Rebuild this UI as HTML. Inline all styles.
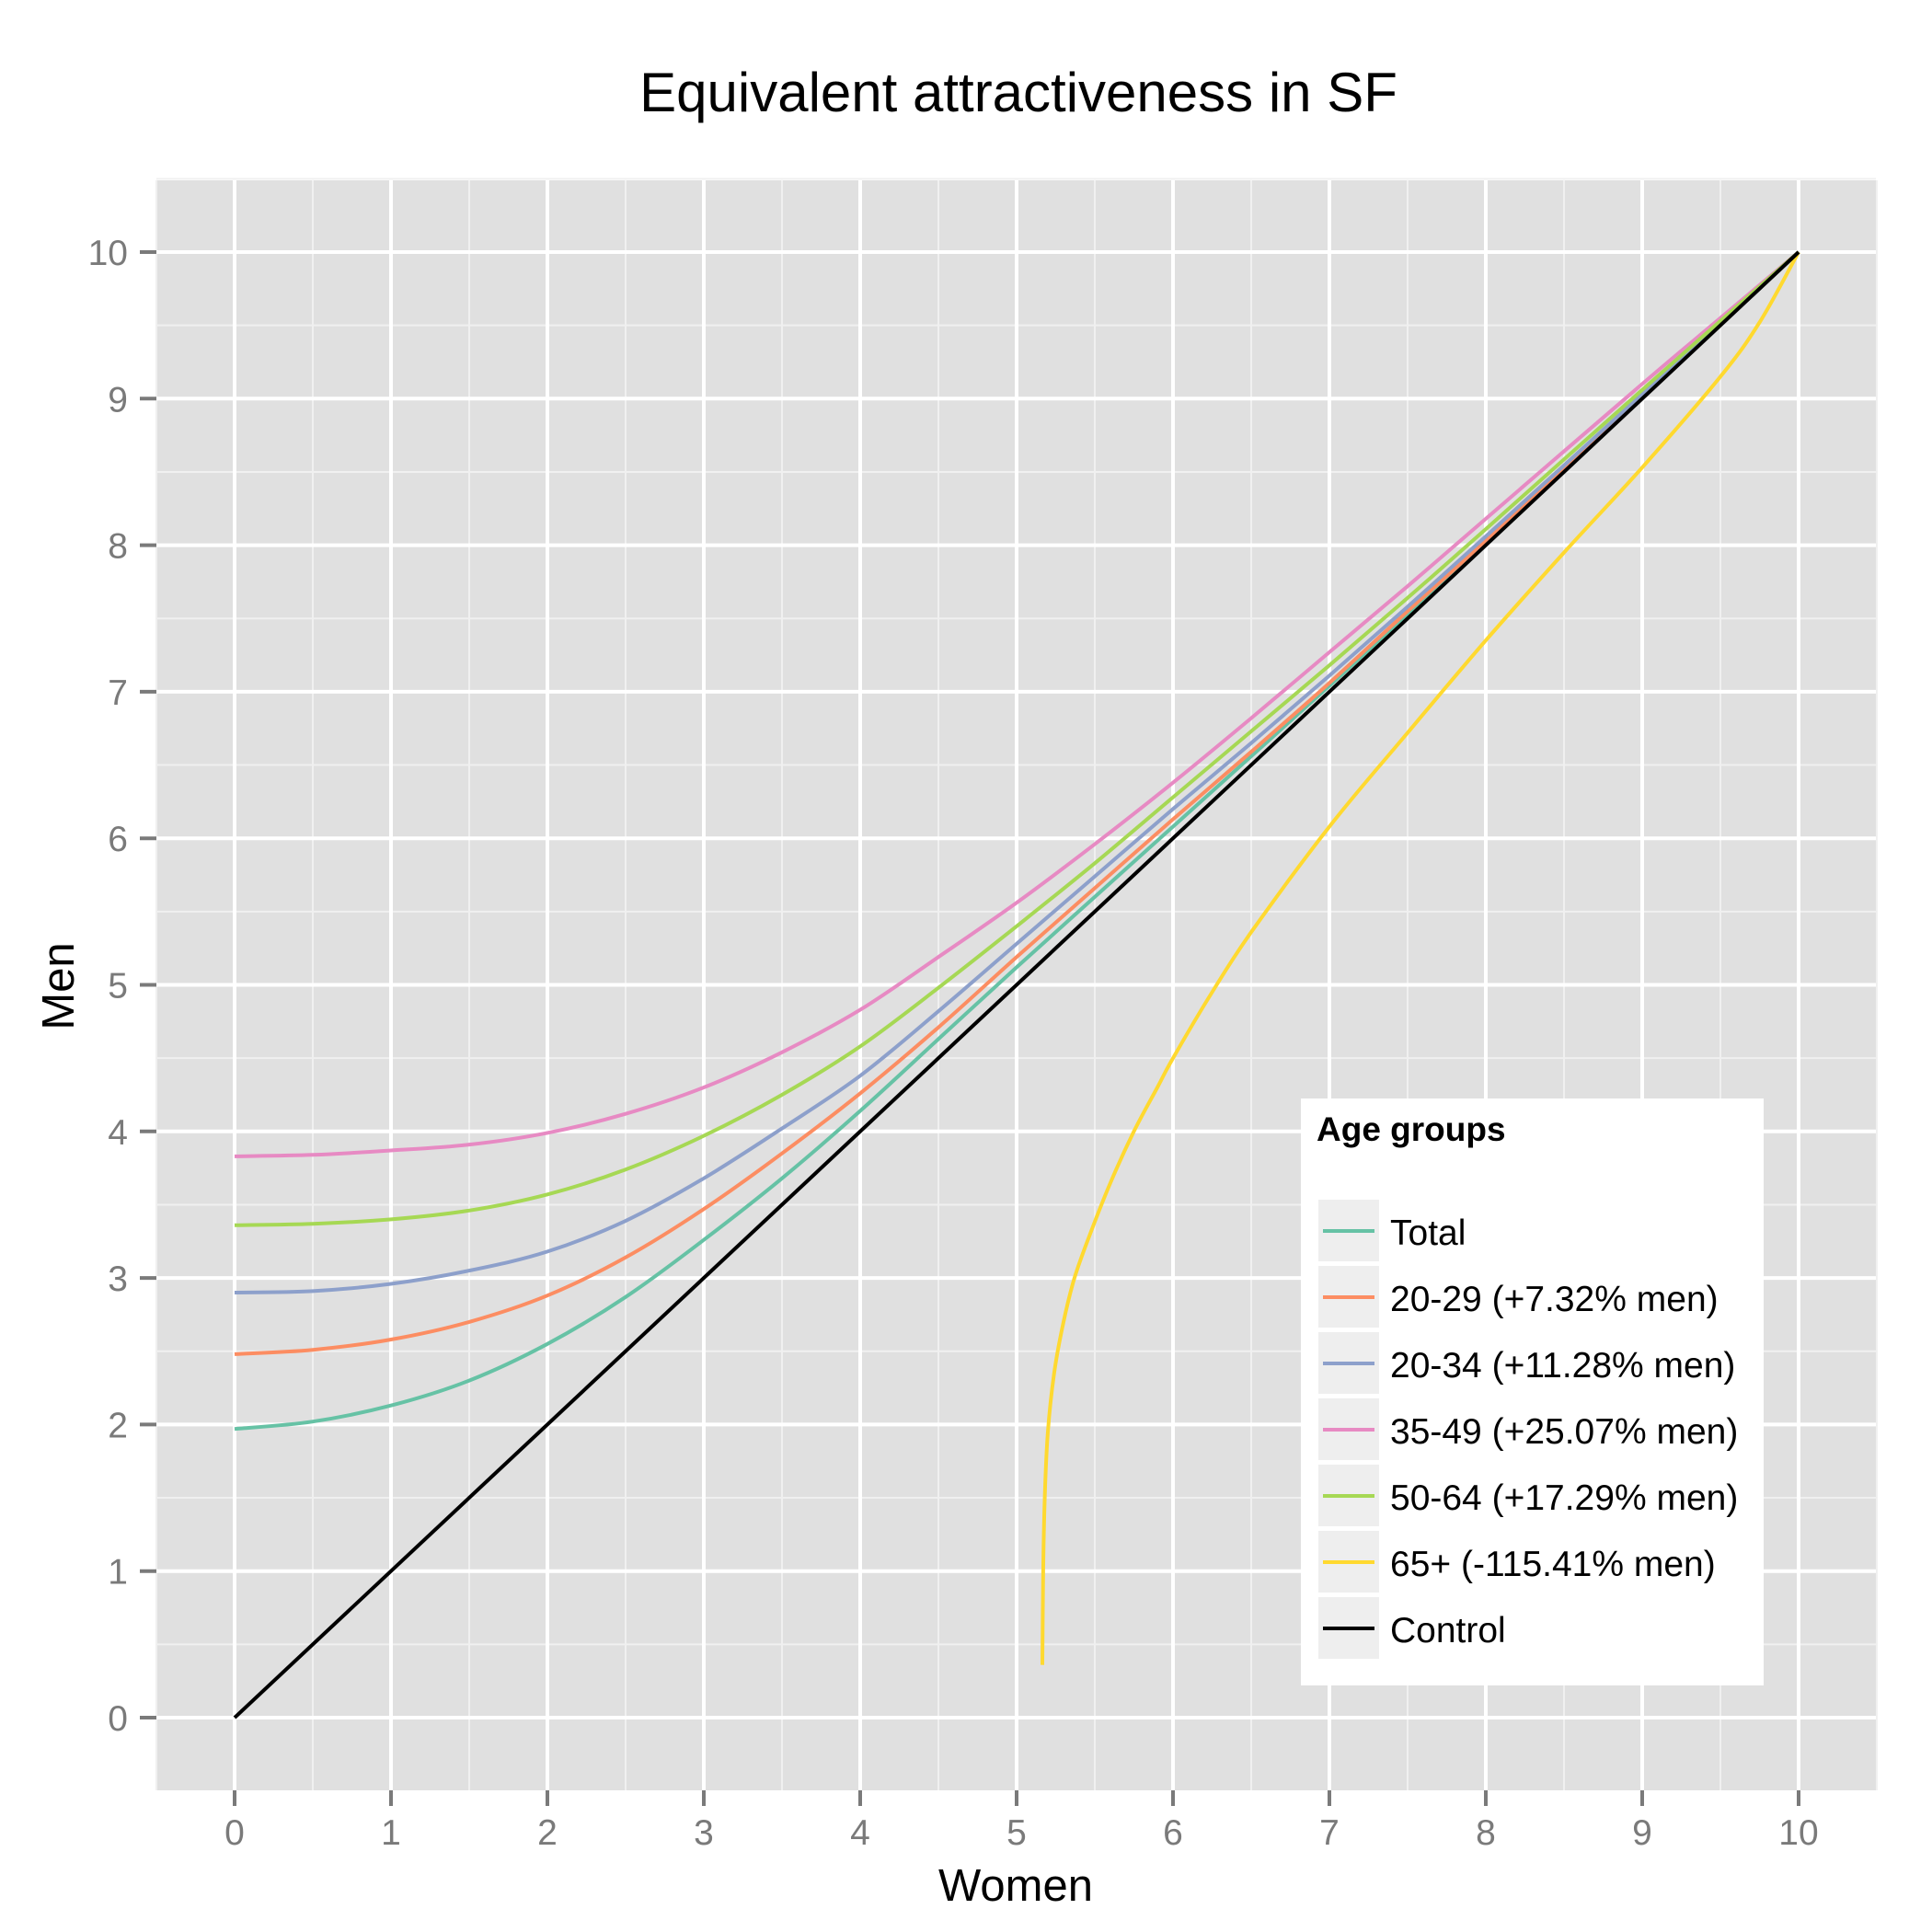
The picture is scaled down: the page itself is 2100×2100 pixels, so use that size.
<!DOCTYPE html>
<html><head><meta charset="utf-8"><title>Equivalent attractiveness in SF</title>
<style>
html,body{margin:0;padding:0;background:#fff;}
svg{display:block;font-family:"Liberation Sans",Arial,sans-serif;}
</style></head>
<body>
<svg id="chart" xmlns="http://www.w3.org/2000/svg" width="2100" height="2100" viewBox="0 0 2100 2100">
<rect x="0" y="0" width="2100" height="2100" fill="#ffffff"/>
<text x="1107" y="121" font-size="60" text-anchor="middle" fill="#000">Equivalent attractiveness in SF</text>
<g id="panel"></g>
<g id="axes"></g>
<text x="1104" y="2066" font-size="49" text-anchor="middle" fill="#000">Women</text>
<text transform="translate(80,1072) rotate(-90)" font-size="49" text-anchor="middle" fill="#000">Men</text>
<g id="series"></g>
<g id="legend"></g>
</svg>
<script>
// ---- data ----
const xTicks = [0,1,2,3,4,5,6,7,8,9,10];
const yTicks = [0,1,2,3,4,5,6,7,8,9,10];
const xs = [0,0.5,1,1.5,2,2.5,3,3.5,4,4.5,5,5.5,6,6.5,7,7.5,8,9,9.5,10];
const totalY = [1.97,2.02,2.13,2.30,2.55,2.87,3.26,3.68,4.14,4.63,5.12,5.60,6.08,6.56,7.04,7.53,8.02,9.01,9.505,10];
const y2029 = [2.48,2.51,2.58,2.70,2.88,3.14,3.47,3.85,4.26,4.71,5.19,5.66,6.13,6.59,7.06,7.55,8.03,9.02,9.51,10];
const y2034 = [2.90,2.91,2.96,3.05,3.18,3.39,3.68,4.02,4.38,4.82,5.28,5.74,6.20,6.65,7.11,7.58,8.06,9.03,9.52,10];
const y3549 = [3.83,3.84,3.87,3.91,3.99,4.12,4.30,4.54,4.83,5.19,5.56,5.96,6.38,6.82,7.27,7.72,8.18,9.10,9.55,10];
const y5064 = [3.36,3.37,3.40,3.46,3.57,3.74,3.97,4.25,4.58,4.98,5.40,5.83,6.28,6.73,7.18,7.64,8.11,9.06,9.53,10];
const x65 = [5.165,5.17,5.18,5.2,5.24,5.3,5.37,5.47,5.6,5.75,5.9,6,6.25,6.5,7,7.5,8,8.5,9,9.5,9.75,10];
const y65 = [0.36,1.0,1.5,1.95,2.35,2.7,3.0,3.3,3.65,4.0,4.3,4.5,4.95,5.36,6.08,6.72,7.35,7.95,8.53,9.15,9.52,10];
const xCtrl = [0,10];
const yCtrl = [0,10];
const seriesNames = ["Total","20-29 (+7.32% men)","20-34 (+11.28% men)","35-49 (+25.07% men)","50-64 (+17.29% men)","65+ (-115.41% men)","Control"];
const seriesColors = ["#66c2a5","#fc8d62","#8da0cb","#e78ac3","#a6d854","#ffd92f","#000000"];

// ---- scales ----
const X0=255, XU=170, Y0=1867, YU=159.3;
const PL=170, PR=2039, PT=196, PB=1946;
function sx(v){return X0+v*XU;}
function sy(v){return Y0-v*YU;}
const NS="http://www.w3.org/2000/svg";
function mk(tag,attrs,parent){const e=document.createElementNS(NS,tag);for(const k in attrs)e.setAttribute(k,attrs[k]);parent.appendChild(e);return e;}

const panel=document.getElementById('panel');
const bg=mk('rect',{x:PL,y:PT,width:PR-PL,height:PB-PT,fill:'#e0e0e0'},panel);


for(let i=-1;i<=10;i++){
  const v=i+0.5;
  const lx=mk('line',{x1:sx(v),x2:sx(v),y1:PT,y2:PB,stroke:'#f0f0f0','stroke-width':2},panel);
  
  
  if(i>=0){
  const ly=mk('line',{x1:PL,x2:PR,y1:sy(v),y2:sy(v),stroke:'#f0f0f0','stroke-width':2},panel);
  
  
  }
}
const axes=document.getElementById('axes');
xTicks.forEach(t=>{
  const g=mk('line',{x1:sx(t),x2:sx(t),y1:PT,y2:PB,stroke:'#ffffff','stroke-width':4},panel);
  
  
  const tk=mk('line',{x1:sx(t),x2:sx(t),y1:PB,y2:PB+17,stroke:'#7a7a7a','stroke-width':4},axes);
  
  
  const lb=mk('text',{x:sx(t),y:2005,'font-size':39,'text-anchor':'middle',fill:'#7a7a7a'},axes);
  lb.textContent=String(t);
  
  
});
yTicks.forEach(t=>{
  const g=mk('line',{x1:PL,x2:PR,y1:sy(t),y2:sy(t),stroke:'#ffffff','stroke-width':4},panel);
  
  
  const tk=mk('line',{x1:PL-18,x2:PL,y1:sy(t),y2:sy(t),stroke:'#7a7a7a','stroke-width':4},axes);
  
  
  const lb=mk('text',{x:139,y:sy(t)+14,'font-size':39,'text-anchor':'end',fill:'#7a7a7a'},axes);
  lb.textContent=String(t);
  
  
});

function pathFor(xa,ya){
  const p=xa.map((x,i)=>[sx(x),sy(ya[i])]);
  if(p.length<3) return 'M'+p.map(q=>q.join(',')).join(' L');
  let d='M'+p[0][0].toFixed(1)+','+p[0][1].toFixed(1);
  for(let i=0;i<p.length-1;i++){
    const p0=p[i-1]||p[i],p1=p[i],p2=p[i+1],p3=p[i+2]||p2;
    const c1=[p1[0]+(p2[0]-p0[0])/6,p1[1]+(p2[1]-p0[1])/6];
    const c2=[p2[0]-(p3[0]-p1[0])/6,p2[1]-(p3[1]-p1[1])/6];
    d+=' C'+c1.map(v=>v.toFixed(1)).join(',')+' '+c2.map(v=>v.toFixed(1)).join(',')+' '+p2.map(v=>v.toFixed(1)).join(',');
  }
  return d;
}
const series=document.getElementById('series');
const seriesData=[[xs,totalY],[xs,y2029],[xs,y2034],[xs,y3549],[xs,y5064],[x65,y65],[xCtrl,yCtrl]];
const seriesKeys=['total','20-29','20-34','35-49','50-64','65-plus','control'];
seriesData.forEach((sd,i)=>{
  const pth=mk('path',{d:pathFor(sd[0],sd[1]),fill:'none',stroke:seriesColors[i],'stroke-width':4,'stroke-linejoin':'round'},series);
  
  
});

const lg=document.getElementById('legend');
const lbox=mk('rect',{x:1414,y:1194,width:503,height:638,fill:'#ffffff'},lg);


const lt=mk('text',{x:1431,y:1240,'font-size':37,'font-weight':'bold',fill:'#000'},lg);
lt.textContent='Age groups';


seriesNames.forEach((n,i)=>{
  const y=1304+i*72;
  const g=mk('g',{},lg);
  
  
  const kb=mk('rect',{x:1433,y:y,width:66,height:67,fill:'#eeeeee'},g);
  
  
  const kl=mk('line',{x1:1438,x2:1494,y1:y+34,y2:y+34,stroke:seriesColors[i],'stroke-width':4},g);
  
  
  const tx=mk('text',{x:1511,y:y+49,'font-size':39,fill:'#000'},g);
  tx.textContent=n;
  
  
});
</script>
</body></html>
